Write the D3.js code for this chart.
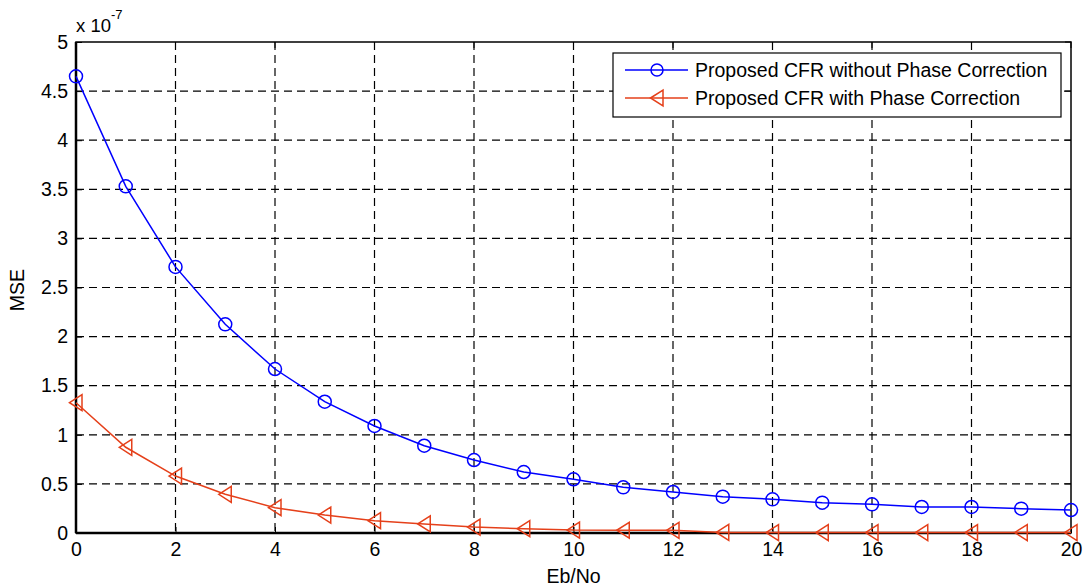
<!DOCTYPE html>
<html>
<head>
<meta charset="utf-8">
<script src="https://cdn.jsdelivr.net/npm/d3@7"></script>
<style>
  body { margin: 0; background: #fff; }
  text { font-family: "Liberation Sans", Arial, sans-serif; }
</style>
</head>
<body>
<div id="chart"></div>
<script>
// Data (MSE in units of 1e-7)
const ebNo = [0, 1, 2, 3, 4, 5, 6, 7, 8, 9, 10, 11, 12, 13, 14, 15, 16, 17, 18, 19, 20];
const mseNoPhase = [4.65, 3.53, 2.71, 2.125, 1.67, 1.337, 1.09, 0.889, 0.743, 0.621, 0.547, 0.465, 0.418,
                    0.37, 0.343, 0.309, 0.292, 0.265, 0.265, 0.248, 0.234];
const mseWithPhase = [1.327, 0.873, 0.58, 0.394, 0.258, 0.183, 0.125, 0.092, 0.061, 0.044, 0.03, 0.028, 0.027,
                      0.006, 0.005, 0.005, 0.005, 0.005, 0.005, 0.005, 0.005];
const xTicks = [0, 2, 4, 6, 8, 10, 12, 14, 16, 18, 20];
const yTicks = [0, 0.5, 1, 1.5, 2, 2.5, 3, 3.5, 4, 4.5, 5];
const seriesNames = ["Proposed CFR without Phase Correction", "Proposed CFR with Phase Correction"];
const seriesColors = ["#0000ff", "#e5401a"];

const W = 1087, H = 588;
const margin = {top: 42, right: 16, bottom: 55, left: 76};
const width = W - margin.left - margin.right;
const height = H - margin.top - margin.bottom;
const fs = 19.5;

const svg = d3.select("#chart").append("svg")
  .attr("width", W)
  .attr("height", H);

const g = svg.append("g")
  .attr("transform", `translate(${margin.left},${margin.top})`);

const x = d3.scaleLinear().domain([0, 20]).range([0, width]);
const y = d3.scaleLinear().domain([0, 5]).range([height, 0]);

// grid
g.append("g").selectAll("line")
  .data(xTicks.slice(1, -1))
  .enter().append("line")
  .attr("x1", d => x(d)).attr("x2", d => x(d))
  .attr("y1", 0).attr("y2", height)
  .attr("stroke", "#000").attr("stroke-width", 1.2)
  .attr("stroke-dasharray", "8,5");

g.append("g").selectAll("line")
  .data(yTicks.slice(1, -1))
  .enter().append("line")
  .attr("x1", 0).attr("x2", width)
  .attr("y1", d => y(d)).attr("y2", d => y(d))
  .attr("stroke", "#000").attr("stroke-width", 1.2)
  .attr("stroke-dasharray", "8,5");

// axes (ticks inward)
const xAxis = g.append("g")
  .attr("transform", `translate(0,${height})`)
  .call(d3.axisBottom(x).tickValues(xTicks).tickSize(-6).tickPadding(9).tickFormat(d3.format("d")));
const yAxis = g.append("g")
  .call(d3.axisLeft(y).tickValues(yTicks).tickSize(-6).tickPadding(8).tickFormat(d => d));

[xAxis, yAxis].forEach(a => {
  a.select(".domain").remove();
  a.selectAll("line").attr("stroke", "#000");
  a.selectAll("text").attr("font-size", fs).attr("fill", "#000")
    .attr("font-family", "Liberation Sans, Arial, sans-serif");
});

// top/right ticks
g.append("g").selectAll("line")
  .data(xTicks)
  .enter().append("line")
  .attr("x1", d => x(d)).attr("x2", d => x(d))
  .attr("y1", 0).attr("y2", 6)
  .attr("stroke", "#000");
g.append("g").selectAll("line")
  .data(yTicks)
  .enter().append("line")
  .attr("x1", width - 6).attr("x2", width)
  .attr("y1", d => y(d)).attr("y2", d => y(d))
  .attr("stroke", "#000");

// box
g.append("rect")
  .attr("x", 0).attr("y", 0)
  .attr("width", width).attr("height", height)
  .attr("fill", "none")
  .attr("stroke", "#000")
  .attr("stroke-width", 1.5);
g.append("line")
  .attr("x1", 0).attr("x2", width)
  .attr("y1", height).attr("y2", height)
  .attr("stroke", "#000").attr("stroke-width", 2.5);
g.append("line")
  .attr("x1", 0).attr("x2", 0)
  .attr("y1", 0).attr("y2", height)
  .attr("stroke", "#000").attr("stroke-width", 2.5);

// lines
const line = d3.line()
  .x((d, i) => x(ebNo[i]))
  .y(d => y(d));

const allSeries = [mseNoPhase, mseWithPhase];
allSeries.forEach((vals, k) => {
  g.append("path")
    .datum(vals)
    .attr("fill", "none")
    .attr("stroke", seriesColors[k])
    .attr("stroke-width", 1.5)
    .attr("d", line);
});

// markers
const triPath = "M-6.5,0 L6,-8 L6,8 Z";

g.selectAll(".circ")
  .data(mseNoPhase)
  .enter().append("circle")
  .attr("cx", (d, i) => x(ebNo[i]))
  .attr("cy", d => y(d))
  .attr("r", 6.5)
  .attr("fill", "none")
  .attr("stroke", seriesColors[0])
  .attr("stroke-width", 1.5);

g.selectAll(".tri")
  .data(mseWithPhase)
  .enter().append("path")
  .attr("d", triPath)
  .attr("transform", (d, i) => `translate(${x(ebNo[i])},${y(d)})`)
  .attr("fill", "none")
  .attr("stroke", seriesColors[1])
  .attr("stroke-width", 1.5);

// exponent label
const expo = svg.append("text")
  .attr("x", 76)
  .attr("y", 32)
  .attr("font-size", 18.5)
  .attr("fill", "#000");
expo.append("tspan").text("x 10");
expo.append("tspan").attr("dy", -13).attr("font-size", 13).text("-7");

// axis labels
svg.append("text")
  .attr("x", margin.left + width / 2)
  .attr("y", 583)
  .attr("text-anchor", "middle")
  .attr("font-size", fs)
  .text("Eb/No");

svg.append("text")
  .attr("transform", "rotate(-90)")
  .attr("x", -290)
  .attr("y", 24)
  .attr("text-anchor", "middle")
  .attr("font-size", fs)
  .text("MSE");

// legend
const legend = svg.append("g").attr("transform", "translate(613,53)");
legend.append("rect")
  .attr("x", 0).attr("y", 0)
  .attr("width", 448).attr("height", 64)
  .attr("fill", "#fff")
  .attr("stroke", "#000")
  .attr("stroke-width", 1.2);

seriesNames.forEach((name, i) => {
  const yy = 17 + i * 28;
  legend.append("line")
    .attr("x1", 12).attr("x2", 75)
    .attr("y1", yy).attr("y2", yy)
    .attr("stroke", seriesColors[i])
    .attr("stroke-width", 1.5);
  if (i === 0) {
    legend.append("circle")
      .attr("cx", 44).attr("cy", yy).attr("r", 6)
      .attr("fill", "none").attr("stroke", seriesColors[i]).attr("stroke-width", 1.5);
  } else {
    legend.append("path")
      .attr("d", triPath)
      .attr("transform", `translate(44,${yy})`)
      .attr("fill", "none").attr("stroke", seriesColors[i]).attr("stroke-width", 1.5);
  }
  legend.append("text")
    .attr("x", 82)
    .attr("y", yy + 7)
    .attr("font-size", fs)
    .text(name);
});
</script>
</body>
</html>
